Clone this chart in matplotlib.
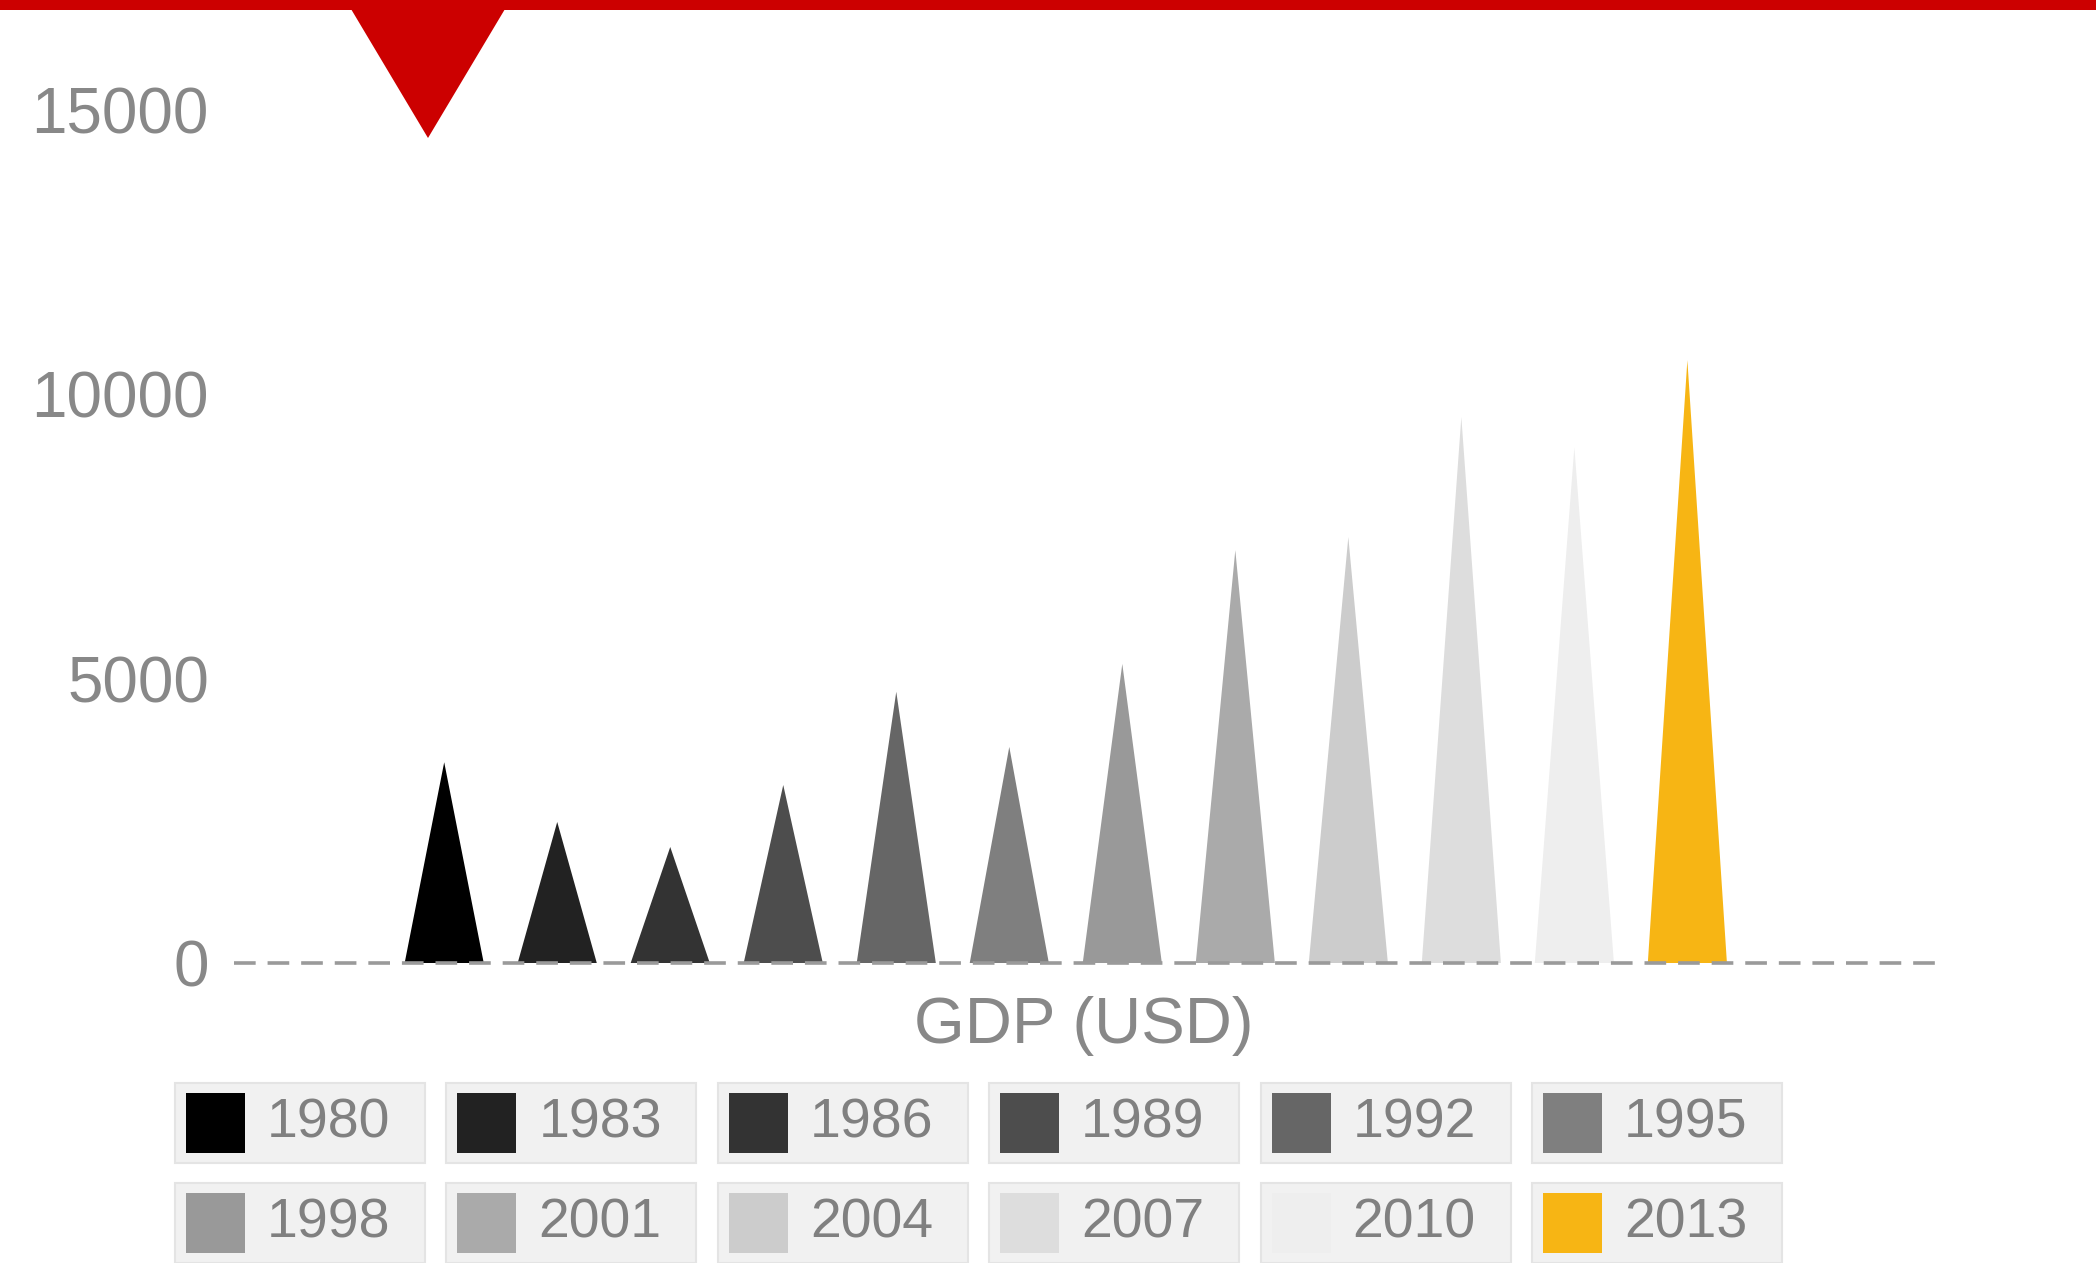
import matplotlib
matplotlib.use("Agg")
import matplotlib.pyplot as plt
from matplotlib.patches import Rectangle, Polygon

# -------------------------------------------------
# DATA
# -------------------------------------------------
years = ["1980", "1983", "1986", "1989", "1992", "1995",
         "1998", "2001", "2004", "2007", "2010", "2013"]
gdp = [3530, 2480, 2040, 3130, 4770, 3800,
       5260, 7260, 7490, 9600, 9070, 10600]
colors = ["#000000", "#222222", "#333333", "#4d4d4d", "#666666", "#7f7f7f",
          "#999999", "#aaaaaa", "#cccccc", "#dddddd", "#eeeeee", "#f7b514"]
y_ticks = [0, 5000, 10000, 15000]
x_title = "GDP (USD)"

W, H = 2096, 1263
plt.rcParams["font.family"] = ["Liberation Sans", "DejaVu Sans"]


def fx(px):
    return px / W


def fy(py):
    return 1 - py / H


fig = plt.figure(figsize=(W / 100, H / 100), dpi=100)
fig.patch.set_facecolor("white")

# -------------------------------------------------
# MAIN AXES
# -------------------------------------------------
ax = fig.add_axes([fx(234), fy(963), fx(1936) - fx(234), fy(110) - fy(963)])
ax.set_xlim(-1.86, 13.2)
ax.set_ylim(0, 15000)
for s in ax.spines.values():
    s.set_visible(False)
ax.set_xticks([])
ax.set_yticks(y_ticks)
ax.set_yticklabels([str(t) for t in y_ticks])
ax.tick_params(axis="y", length=0, pad=18, labelsize=46, labelcolor="#888888")

half_w = 0.35
for i, (v, c) in enumerate(zip(gdp, colors)):
    ax.fill([i - half_w, i, i + half_w], [0, v, 0], color=c, lw=0, zorder=2)

ax.axhline(0, color="#9a9a9a", lw=2.6, dashes=(6.0, 3.3), zorder=3, clip_on=False)

fig.text(fx(1084), fy(1026), x_title, ha="center", va="center",
         fontsize=47, color="#888888")

# -------------------------------------------------
# HEADER (red bar + pointer)
# -------------------------------------------------
fig.patches.append(Rectangle((0, fy(10)), 1, fy(0) - fy(10),
                             transform=fig.transFigure, color="#cc0000", lw=0))
fig.patches.append(Polygon([(fx(351), fy(9)), (fx(505), fy(9)), (fx(428), fy(138))],
                           closed=True, transform=fig.transFigure,
                           color="#cc0000", lw=0))

# -------------------------------------------------
# LEGEND (boxed entries, 2 rows x 6)
# -------------------------------------------------
for i, (lab, c) in enumerate(zip(years, colors)):
    col, row = i % 6, i // 6
    x0 = 175 + col * 271.4
    y0 = 1083 + row * 100
    fig.patches.append(Rectangle((fx(x0), fy(y0 + 80)), fx(250), 80 / H,
                                 transform=fig.transFigure,
                                 facecolor="#f1f1f1", edgecolor="#e4e4e4", lw=1.5))
    fig.patches.append(Rectangle((fx(x0 + 11), fy(y0 + 70)), fx(59), 60 / H,
                                 transform=fig.transFigure,
                                 facecolor=c, edgecolor="none"))
    fig.text(fx(x0 + 92), fy(y0 + 41), lab, ha="left", va="center",
             fontsize=40, color="#808080")

fig.savefig("out.png", dpi=100, facecolor="white")
